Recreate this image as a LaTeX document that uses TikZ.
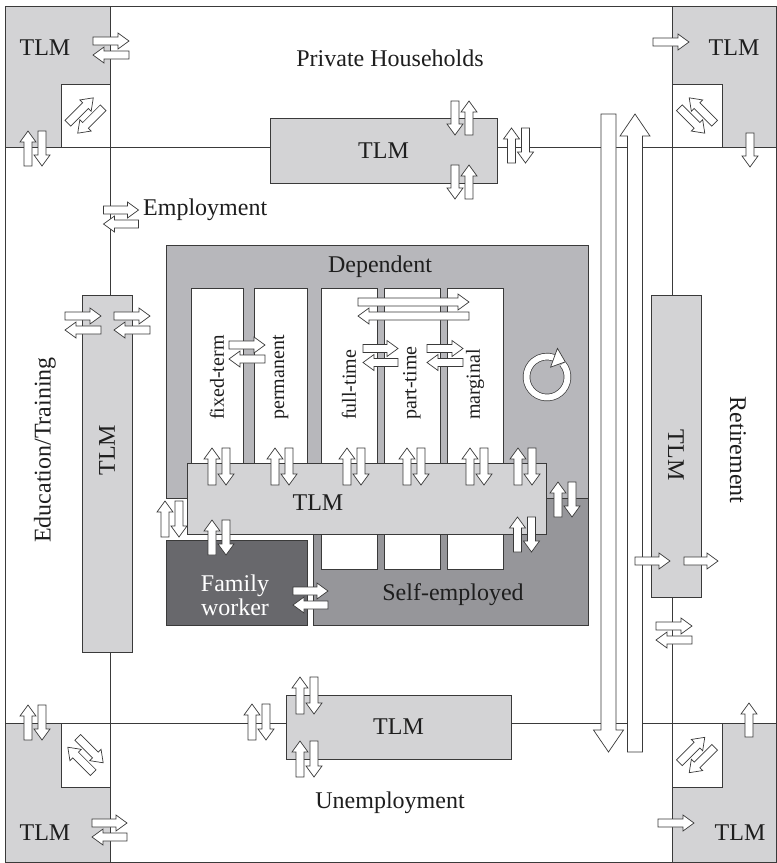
\documentclass[tikz,border=0pt]{standalone}
\usepackage{fontspec}
\setmainfont{Liberation Serif}
\usetikzlibrary{calc}

\definecolor{tlmgray}{HTML}{D3D3D5}
\definecolor{depgray}{HTML}{B7B7BB}
\definecolor{selfgray}{HTML}{96969A}
\definecolor{famgray}{HTML}{68686C}
\definecolor{edgedark}{HTML}{3A3A3A}
\definecolor{textdark}{HTML}{1E1E1E}

\begin{document}
\begin{tikzpicture}[
    x=1pt, y=-1pt,
    every node/.style={inner sep=0pt},
    gridline/.style={draw=edgedark, line width=0.8pt},
    cornerfill/.style={fill=tlmgray},
    tlmbox/.style={draw=edgedark, line width=0.8pt, fill=tlmgray},
    sqbox/.style={draw=edgedark, line width=0.8pt, fill=white},
    depbox/.style={draw=edgedark, line width=0.8pt, fill=depgray},
    selfbox/.style={draw=edgedark, line width=0.8pt, fill=selfgray},
    fambox/.style={draw=edgedark, line width=0.8pt, fill=famgray},
    colbox/.style={draw=edgedark, line width=0.8pt, fill=white},
    lbl/.style={font=\fontsize{24}{24}\selectfont, text=textdark},
    collbl/.style={font=\fontsize{20}{20}\selectfont, text=textdark, rotate=90, anchor=west},
    arrline/.style={draw=edgedark, line width=0.7pt, fill=white, line join=miter},
    ringarr/.style={draw=edgedark, line width=0.7pt, double=white, double distance=6pt},
    pics/barrow/.style={code={
        \path[arrline] (0,-4) -- ({#1-11},-4) -- ({#1-11},-8) -- (#1,0)
            -- ({#1-11},8) -- ({#1-11},4) -- (0,4) -- cycle;
    }},
    pics/bigarrow/.style={code={
        \path[arrline] (0,-7.5) -- ({#1-22},-7.5) -- ({#1-22},-15) -- (#1,0)
            -- ({#1-22},15) -- ({#1-22},7.5) -- (0,7.5) -- cycle;
    }},
    % two opposite arrows, the forward one on its left-hand side
    pics/lpair/.style={code={
        \path[arrline] ({-#1/2},-11) -- ({#1/2-11},-11) -- ({#1/2-11},-15) -- ({#1/2},-7)
            -- ({#1/2-11},1) -- ({#1/2-11},-3) -- ({-#1/2},-3) -- cycle;
        \path[arrline] ({#1/2},3) -- ({-#1/2+11},3) -- ({-#1/2+11},-1) -- ({-#1/2},7)
            -- ({-#1/2+11},15) -- ({-#1/2+11},11) -- ({#1/2},11) -- cycle;
    }},
    % the same, forward arrow on its right-hand side
    pics/rpair/.style={code={
        \path[arrline] ({-#1/2},11) -- ({#1/2-11},11) -- ({#1/2-11},15) -- ({#1/2},7)
            -- ({#1/2-11},-1) -- ({#1/2-11},3) -- ({-#1/2},3) -- cycle;
        \path[arrline] ({#1/2},-3) -- ({-#1/2+11},-3) -- ({-#1/2+11},1) -- ({-#1/2},-7)
            -- ({-#1/2+11},-15) -- ({-#1/2+11},-11) -- ({#1/2},-11) -- cycle;
    }},
]

\path[fill=white] (0,0) rectangle (777,863);

% ============ CORNERS AND GRID ============
\fill[cornerfill] (5,6) rectangle (110,147);
\fill[cornerfill] (672,6) rectangle (776,147);
\fill[cornerfill] (5,723) rectangle (110,862);
\fill[cornerfill] (672,723) rectangle (776,862);

\draw[gridline] (5,6) rectangle (776,862);
\draw[gridline] (110,6) -- (110,862);
\draw[gridline] (672,6) -- (672,862);
\draw[gridline] (5,147) -- (776,147);
\draw[gridline] (5,723) -- (776,723);

\draw[sqbox] (61,84) rectangle (110,147);
\draw[sqbox] (672,84) rectangle (722,147);
\draw[sqbox] (61,723) rectangle (110,787);
\draw[sqbox] (672,723) rectangle (722,787);

% ============ OUTER TLM BOXES ============
\node[tlmbox, minimum width=227pt, minimum height=65pt, lbl] (tlmtop) at (383.5,150.5) {TLM};
\node[tlmbox, minimum width=225pt, minimum height=64pt, lbl] (tlmbot) at (398.5,727) {TLM};
\draw[tlmbox] (82,295) rectangle (132,652);
\node[lbl, rotate=90] (tlmleft) at (107,450) {TLM};
\draw[tlmbox] (651,295) rectangle (701,597);
\node[lbl, rotate=-90] (tlmright) at (676,455) {TLM};

% ============ EMPLOYMENT BLOCK ============
\draw[depbox] (166,245) rectangle (588,498);
\draw[selfbox] (313,498) rectangle (588,625);
\draw[fambox] (166,540) rectangle (307,625);

% columns of dependent work
\foreach \xa/\xb/\name/\txt in {191/243/fixed/fixed-term, 254/307/perm/permanent,
        321/377/full/full-time, 384/440/part/part-time, 447/503/marg/marginal} {
    \draw[colbox] (\xa,288) rectangle (\xb,480);
    \node[collbl] (\name) at ({(\xa+\xb)/2},420) {\txt};
}
\foreach \xa/\xb in {321/377, 384/440, 447/503}
    \draw[colbox] (\xa,505) rectangle (\xb,569);

\draw[tlmbox] (187,463) rectangle (546,534);
\node[lbl] (tlmmid) at (318,503) {TLM};

\node[lbl] (dep) at (380,267) {Dependent};
\node[lbl] (self) at (453,595) {Self-employed};
\node[lbl, text=white, align=center] (fam) at (235,595) {Family\\worker};

% ============ BIG VERTICAL ARROWS ============
\pic[rotate=-90] at (608.5,114) {bigarrow=638};
\pic[rotate=90] at (635,752) {bigarrow=638};

% ============ SMALL ARROWS ============
% horizontal pairs
\foreach \cx/\cy/\len in {111/48/36, 121/217/35, 83/323/36, 132/323/36,
        247/352/36, 413.5/309/111, 380.5/355.5/35, 445/355.5/36,
        310.5/598/35, 674/633/36, 109.5/830/35}
    \pic at (\cx,\cy) {lpair=\len};

% vertical pairs
\foreach \cx/\cy/\len in {35/148.5/35, 518.5/145.5/35, 172/519/36, 565/499.5/35,
        524.5/534.5/35, 219/537.5/35, 307/695.5/37, 307/759/36,
        259/722/36, 35/722.5/35}
    \pic[rotate=90] at (\cx,\cy) {lpair=\len};
\foreach \cx in {219,282,354,414,477,525}
    \pic[rotate=90] at (\cx,466.5) {lpair=37};
\pic[rotate=90] at (462,118) {rpair=34};
\pic[rotate=90] at (462,182) {rpair=34};

% diagonal pairs in the corner squares
\pic[rotate=45] at (85.5,115.5) {lpair=36};
\pic[rotate=135] at (697,115.5) {rpair=36};
\pic[rotate=-45] at (85.5,755) {lpair=36};
\pic[rotate=45] at (697,755) {lpair=36};

% single arrows
\pic at (653,42) {barrow=36};
\pic at (635,561) {barrow=35};
\pic at (684,561) {barrow=34};
\pic at (658,823) {barrow=36};
\pic[rotate=-90] at (750,133) {barrow=34};
\pic[rotate=90] at (749,737) {barrow=34};

% circular arrow
\coordinate (ring) at (547,377);
\draw[ringarr] (ring) ++(-40:20.5) arc[start angle=-40, end angle=290, radius=20.5];
\begin{scope}[shift={($(ring)+(290:20.5)$)}, rotate=-20]
    \path[arrline] (0,-10) -- (12,0) -- (0,10) -- cycle;
\end{scope}

% ============ LABELS ============
\node[lbl] (tltext) at (45,48) {TLM};
\node[lbl] (trtext) at (734,48) {TLM};
\node[lbl] (bltext) at (45,833) {TLM};
\node[lbl] (brtext) at (740,833) {TLM};
\node[lbl] (house) at (390,58) {Private Households};
\node[lbl, anchor=west] (emp) at (143,210) {Employment};
\node[lbl] (unemp) at (390,803) {Unemployment};
\node[lbl, rotate=90] (edu) at (45,450) {Education/Training};
\node[lbl, rotate=-90] (ret) at (738,450) {Retirement};

\end{tikzpicture}
\end{document}
